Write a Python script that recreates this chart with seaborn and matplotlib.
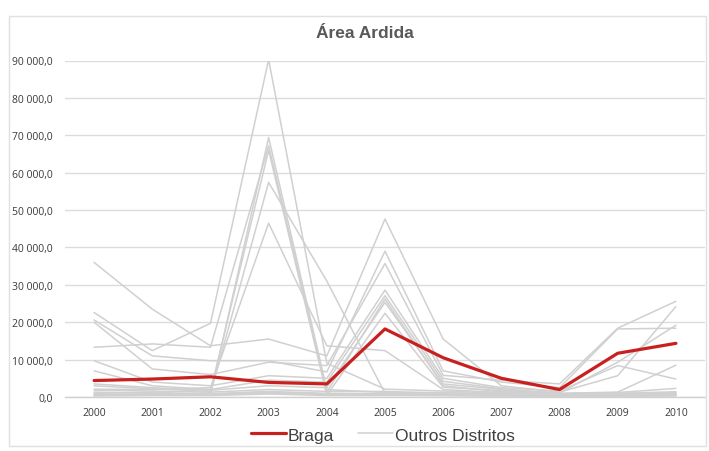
import matplotlib
matplotlib.use("Agg")
import matplotlib.pyplot as plt
from matplotlib.lines import Line2D
from matplotlib.patches import Rectangle
from matplotlib.ticker import FuncFormatter
import pandas as pd
import seaborn as sns

# Burned area (ha) per year
anos = [2000, 2001, 2002, 2003, 2004, 2005, 2006, 2007, 2008, 2009, 2010]

braga = [4400, 4800, 5400, 3900, 3500, 18200, 10500, 5000, 2000, 11700, 14350]

outro_01 = [22600, 12400, 19700, 90200, 9000, 2100, 1600, 1000, 600, 800, 1200]
outro_02 = [1000, 1300, 600, 69400, 2000, 1200, 1200, 800, 500, 700, 900]
outro_03 = [13300, 14200, 13300, 67200, 1300, 26200, 3000, 1400, 800, 1200, 2300]
outro_04 = [3000, 2200, 1500, 66000, 500, 22400, 2600, 1700, 1100, 9300, 19200]
outro_05 = [600, 800, 1000, 57400, 31000, 1000, 800, 600, 400, 400, 600]
outro_06 = [2100, 2000, 2500, 46500, 13700, 12400, 2000, 1200, 700, 600, 800]
outro_07 = [36000, 23500, 13700, 15500, 11000, 47600, 15500, 3000, 1300, 5700, 24200]
outro_08 = [20600, 11000, 9700, 9700, 6700, 39000, 7000, 4000, 2500, 18200, 18400]
outro_09 = [20000, 7500, 6000, 9300, 8400, 35700, 5800, 4500, 3500, 18400, 25600]
outro_10 = [9700, 4000, 3000, 5700, 5000, 28600, 5000, 2500, 1600, 8400, 4800]
outro_11 = [7000, 3000, 2000, 4500, 4000, 27100, 4200, 2200, 1000, 1300, 8500]
outro_12 = [3500, 2500, 1800, 3000, 2500, 25300, 3500, 2000, 900, 1000, 1400]
outro_13 = [1800, 1600, 1300, 2000, 1500, 1500, 1000, 700, 400, 500, 1000]
outro_14 = [1300, 1000, 900, 1500, 1000, 900, 600, 500, 300, 400, 700]
outro_15 = [800, 600, 800, 1200, 800, 700, 500, 400, 300, 300, 500]
outro_16 = [400, 500, 500, 1000, 600, 500, 400, 300, 200, 200, 400]
outro_17 = [300, 400, 400, 800, 400, 400, 400, 300, 200, 200, 300]

outros = [outro_01, outro_02, outro_03, outro_04, outro_05, outro_06, outro_07,
          outro_08, outro_09, outro_10, outro_11, outro_12, outro_13, outro_14,
          outro_15, outro_16, outro_17]

y_ticks = [0, 10000, 20000, 30000, 40000, 50000, 60000, 70000, 80000, 90000]

rows = []
for i, serie in enumerate(outros):
    for ano, v in zip(anos, serie):
        rows.append({"distrito": f"d{i + 1:02d}", "ano": ano, "area": v})
df_outros = pd.DataFrame(rows)
df_braga = pd.DataFrame({"ano": anos, "area": braga})

sns.set_theme(style="white")
plt.rcParams["font.family"] = ["Open Sans", "DejaVu Sans"]

W, H = 709, 452
fig = plt.figure(figsize=(W / 100, H / 100), dpi=100)
ax = fig.add_axes([65 / W, 1 - 398 / H, (705 - 65) / W, (398 - 61.5) / H])

GRAY = "#d0d0d0"
RED = "#c8201e"

sns.lineplot(data=df_outros, x="ano", y="area", units="distrito",
             estimator=None, color=GRAY, linewidth=1.1, ax=ax, legend=False)
sns.lineplot(data=df_braga, x="ano", y="area", color=RED,
             linewidth=2.3, ax=ax, legend=False)

ax.set_xlim(anos[0] - 0.5, anos[-1] + 0.5)
ax.set_ylim(y_ticks[0], y_ticks[-1])
ax.set_xticks(anos)
ax.set_xticklabels([str(a) for a in anos])
ax.set_yticks(y_ticks)
ax.yaxis.set_major_formatter(
    FuncFormatter(lambda v, p: f"{v:,.1f}".replace(",", " ").replace(".", ",")))
ax.set_xlabel("")
ax.set_ylabel("")
ax.grid(axis="y", color="#dcdcdc", linewidth=1.0)
ax.grid(axis="x", visible=False)
ax.set_axisbelow(True)
for side in ["top", "right", "left"]:
    ax.spines[side].set_visible(False)
ax.spines["bottom"].set_color("#d0d0d0")
ax.spines["bottom"].set_linewidth(1.0)
ax.tick_params(axis="both", length=0, labelsize=7.5, colors="#3a3a3a")
ax.tick_params(axis="x", pad=7)
ax.tick_params(axis="y", pad=9)

fig.text(365 / W, 1 - 33 / H, "Área Ardida", ha="center", va="center",
         fontsize=12.5, fontweight="bold", color="#595959",
         family=["Liberation Sans", "DejaVu Sans"])

handles = [Line2D([0], [0], color=RED, linewidth=2.3),
           Line2D([0], [0], color=GRAY, linewidth=1.1)]
fig.legend(handles, ["Braga", "Outros Distritos"], loc="center",
           bbox_to_anchor=(383 / W, 1 - 436 / H), ncol=2, frameon=False,
           handlelength=2.0, handletextpad=0.1, columnspacing=1.4,
           prop={"family": "Liberation Sans", "size": 12.5}, labelcolor="#404040")

fig.patches.append(Rectangle((9 / W, 1 - 447 / H), (706 - 9) / W, (447 - 17) / H,
                             transform=fig.transFigure, fill=False,
                             edgecolor="#e0e0e0", linewidth=1.0))

fig.savefig("out.png", dpi=100)
